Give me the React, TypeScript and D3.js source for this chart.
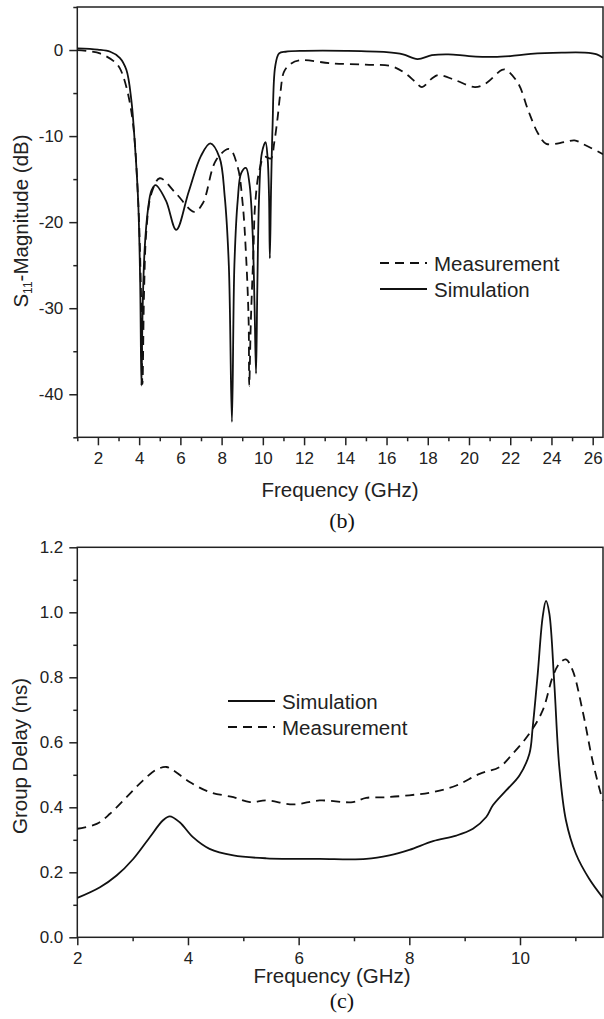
import React, { useEffect, useRef } from 'react';
import * as d3 from 'd3';

// ---- panel (b): S11 magnitude ----
const s11SimFreq = [1, 2, 2.6, 3.06, 3.38, 3.62, 3.78, 3.95, 4.05, 4.11, 4.17, 4.27, 4.43, 4.6, 4.8, 5.3, 5.8, 6.4, 7.0, 7.45, 7.9, 8.15, 8.35, 8.5, 8.62, 8.78, 8.95, 9.18, 9.35, 9.5, 9.6, 9.67, 9.73, 9.82, 9.95, 10.13, 10.23, 10.3, 10.34, 10.4, 10.47, 10.6, 10.79, 11.1, 12, 14, 16, 16.8, 17.5, 18.2, 19, 20, 21.2, 22, 23, 24.5, 25.6, 26.2, 26.5];
const s11SimMag = [0.2, 0.05, -0.2, -0.9, -2.3, -5.8, -10.5, -17.4, -27, -39, -30, -23, -18.5, -16.3, -15.7, -17.5, -20.9, -16.5, -12.3, -10.85, -12.5, -17, -25, -43.2, -25, -17.5, -14.3, -13.7, -15.5, -21, -30, -37.6, -28, -17, -12, -10.7, -12.5, -17, -24.2, -16, -9, -1.9, -0.4, -0.2, -0.1, -0.1, -0.25, -0.5, -1.05, -0.6, -0.5, -0.7, -0.8, -0.7, -0.45, -0.3, -0.3, -0.5, -0.9];

const s11MeasFreq = [1, 2.1, 2.82, 3.06, 3.38, 3.7, 3.95, 4.08, 4.16, 4.24, 4.35, 4.59, 5.0, 5.8, 6.68, 7.09, 7.73, 8.38, 8.78, 9.02, 9.18, 9.31, 9.34, 9.42, 9.54, 9.63, 9.83, 10.07, 10.39, 10.55, 10.71, 10.85, 11.03, 11.35, 11.76, 13.37, 14.98, 16.27, 16.9, 17.4, 17.72, 18.2, 18.52, 19.33, 20.29, 20.8, 21.6, 21.8, 22.39, 22.87, 23.35, 23.75, 24.64, 25.12, 25.6, 26.5];
const s11MeasMag = [0, -0.4, -1.4, -2.1, -4.3, -8.5, -17.4, -27, -38.8, -28, -21, -16.7, -14.9, -16.7, -18.8, -17.8, -12.8, -11.5, -13.6, -17.8, -23.6, -31.4, -39, -31.4, -23.6, -17.8, -14, -12.4, -12.6, -10.8, -8, -5, -2.5, -1.6, -1.2, -1.55, -1.7, -1.9, -2.7, -3.7, -4.3, -3.3, -2.9, -3.5, -4.3, -3.9, -2.3, -2.3, -3.9, -7, -9.7, -10.9, -10.7, -10.5, -11, -12.1];

const s11XMajor = [2, 4, 6, 8, 10, 12, 14, 16, 18, 20, 22, 24, 26];
const s11XMinor = [1, 3, 5, 7, 9, 11, 13, 15, 17, 19, 21, 23, 25];
const s11YMajor = [-40, -30, -20, -10, 0];
const s11YMinor = [-45, -35, -25, -15, -5, 5];

// ---- panel (c): group delay ----
const gdSimFreq = [2, 2.41, 2.71, 3.01, 3.31, 3.55, 3.67, 3.85, 4.09, 4.39, 4.82, 5.42, 6.38, 7.22, 7.64, 8.0, 8.43, 8.85, 9.15, 9.39, 9.51, 9.75, 9.99, 10.17, 10.23, 10.32, 10.41, 10.47, 10.53, 10.62, 10.71, 10.83, 11.01, 11.25, 11.5];
const gdSimDelay = [0.121, 0.154, 0.19, 0.241, 0.308, 0.36, 0.372, 0.354, 0.308, 0.272, 0.252, 0.243, 0.241, 0.241, 0.252, 0.269, 0.296, 0.313, 0.334, 0.37, 0.406, 0.452, 0.498, 0.565, 0.647, 0.81, 0.986, 1.035, 0.997, 0.78, 0.524, 0.36, 0.257, 0.18, 0.121];

const gdMeasFreq = [2, 2.35, 2.59, 2.89, 3.19, 3.43, 3.61, 3.73, 4.03, 4.39, 4.82, 5.12, 5.42, 5.9, 6.38, 6.98, 7.22, 7.58, 8.0, 8.43, 8.85, 9.27, 9.63, 9.87, 10.17, 10.41, 10.59, 10.71, 10.83, 10.95, 11.13, 11.31, 11.46, 11.5];
const gdMeasDelay = [0.334, 0.349, 0.38, 0.431, 0.483, 0.516, 0.524, 0.514, 0.478, 0.447, 0.431, 0.416, 0.421, 0.409, 0.421, 0.416, 0.429, 0.431, 0.437, 0.447, 0.467, 0.503, 0.524, 0.565, 0.627, 0.698, 0.801, 0.842, 0.855, 0.822, 0.698, 0.544, 0.442, 0.42];

const gdXMajor = [2, 4, 6, 8, 10];
const gdXMinor = [3, 5, 7, 9, 11];
const gdYMajor = [0, 0.2, 0.4, 0.6, 0.8, 1.0, 1.2];
const gdYMinor = [0.1, 0.3, 0.5, 0.7, 0.9, 1.1];

const SANS = '"Liberation Sans", Arial, sans-serif';
const SERIF = '"Liberation Serif", "Times New Roman", serif';
const DASH = '9,6';

type Series = { x: number[]; y: number[]; dashed: boolean; label: string };

type Panel = {
    id: string;
    left: number; top: number; right: number; bottom: number;
    xDomain: [number, number]; yDomain: [number, number];
    xMajor: number[]; xMinor: number[]; yMajor: number[]; yMinor: number[];
    yFormat: (d: number) => string;
    series: Series[];
    legend: { x: number; y: number };
    yTitle: string; ySub?: string; yTitleRest?: string; yTitleX: number; yTitleY: number;
    xTitleX: number; xTitleY: number;
    caption: string; captionX: number; captionY: number;
};

const panels: Panel[] = [
    {
        id: 'b', left: 77.3, top: 7, right: 603, bottom: 437.3,
        xDomain: [1, 26.5], yDomain: [-45, 5],
        xMajor: s11XMajor, xMinor: s11XMinor, yMajor: s11YMajor, yMinor: s11YMinor,
        yFormat: d => String(d),
        series: [
            { x: s11MeasFreq, y: s11MeasMag, dashed: true, label: 'Measurement' },
            { x: s11SimFreq, y: s11SimMag, dashed: false, label: 'Simulation' },
        ],
        legend: { x: 380, y: 263 },
        yTitle: 'S', ySub: '11', yTitleRest: '-Magnitude (dB)', yTitleX: 28, yTitleY: 221,
        xTitleX: 340, xTitleY: 497,
        caption: '(b)', captionX: 342, captionY: 528,
    },
    {
        id: 'c', left: 77.3, top: 547.3, right: 603, bottom: 937.3,
        xDomain: [2, 11.5], yDomain: [0, 1.2],
        xMajor: gdXMajor, xMinor: gdXMinor, yMajor: gdYMajor, yMinor: gdYMinor,
        yFormat: d3.format('.1f'),
        series: [
            { x: gdSimFreq, y: gdSimDelay, dashed: false, label: 'Simulation' },
            { x: gdMeasFreq, y: gdMeasDelay, dashed: true, label: 'Measurement' },
        ],
        legend: { x: 228, y: 701 },
        yTitle: 'Group Delay (ns)', yTitleX: 27, yTitleY: 756,
        xTitleX: 332, xTitleY: 983,
        caption: '(c)', captionX: 342, captionY: 1008,
    },
];

const App: React.FC = () => {
    const svgRef = useRef<SVGSVGElement | null>(null);

    useEffect(() => {
        const svg = d3.select(svgRef.current);
        svg.selectAll('*').remove();

        panels.forEach(p => {
            const x = d3.scaleLinear().domain(p.xDomain).range([p.left, p.right]);
            const y = d3.scaleLinear().domain(p.yDomain).range([p.bottom, p.top]);
            const g = svg.append('g');

            g.append('clipPath').attr('id', `clip-${p.id}`)
                .append('rect')
                .attr('x', p.left).attr('y', p.top)
                .attr('width', p.right - p.left).attr('height', p.bottom - p.top);

            // frame
            g.append('rect')
                .attr('x', p.left).attr('y', p.top)
                .attr('width', p.right - p.left).attr('height', p.bottom - p.top)
                .attr('fill', 'none').attr('stroke', '#222').attr('stroke-width', 1.5);

            // x axis: major + minor
            const xAxisG = g.append('g').attr('transform', `translate(0,${p.bottom})`);
            xAxisG.call(d3.axisBottom(x).tickValues(p.xMajor).tickSize(8).tickPadding(7).tickSizeOuter(0).tickFormat(d => String(d)));
            xAxisG.append('g').call(d3.axisBottom(x).tickValues(p.xMinor).tickSize(4).tickSizeOuter(0).tickFormat(() => ''));

            const yAxisG = g.append('g').attr('transform', `translate(${p.left},0)`);
            yAxisG.call(d3.axisLeft(y).tickValues(p.yMajor).tickSize(8).tickPadding(6).tickSizeOuter(0).tickFormat(d => p.yFormat(d as number)));
            yAxisG.append('g').call(d3.axisLeft(y).tickValues(p.yMinor).tickSize(4).tickSizeOuter(0).tickFormat(() => ''));

            [xAxisG, yAxisG].forEach(a => {
                a.selectAll('.domain').remove();
                a.selectAll('line').attr('stroke', '#222').attr('stroke-width', 1.5);
                a.selectAll('text').attr('font-family', SANS).attr('font-size', 17).attr('fill', '#222');
            });

            // curves
            p.series.forEach(s => {
                const pts = s.x.map((v, i) => [v, s.y[i]] as [number, number]);
                const line = d3.line<[number, number]>()
                    .x(d => x(d[0]))
                    .y(d => y(d[1]))
                    .curve(d3.curveCatmullRom.alpha(0.5));
                g.append('path')
                    .datum(pts)
                    .attr('clip-path', `url(#clip-${p.id})`)
                    .attr('fill', 'none')
                    .attr('stroke', '#111')
                    .attr('stroke-width', 1.8)
                    .attr('stroke-dasharray', s.dashed ? DASH : null)
                    .attr('d', line);
            });

            // legend
            p.series.forEach((s, i) => {
                const ly = p.legend.y + i * 26;
                g.append('line')
                    .attr('x1', p.legend.x).attr('x2', p.legend.x + 47)
                    .attr('y1', ly).attr('y2', ly)
                    .attr('stroke', '#111').attr('stroke-width', 1.8)
                    .attr('stroke-dasharray', s.dashed ? DASH : null);
                g.append('text')
                    .attr('x', p.legend.x + 54).attr('y', ly + 7.5)
                    .attr('font-family', SANS).attr('font-size', 20.5).attr('fill', '#222')
                    .text(s.label);
            });

            // axis titles
            g.append('text')
                .attr('x', p.xTitleX).attr('y', p.xTitleY)
                .attr('text-anchor', 'middle')
                .attr('font-family', SANS).attr('font-size', 20.5).attr('fill', '#222')
                .text('Frequency (GHz)');

            const yt = g.append('text')
                .attr('transform', `translate(${p.yTitleX},${p.yTitleY}) rotate(-90)`)
                .attr('text-anchor', 'middle')
                .attr('font-family', SANS).attr('font-size', 20.5).attr('fill', '#222');
            yt.append('tspan').text(p.yTitle);
            if (p.ySub) {
                yt.append('tspan').attr('font-size', 12).attr('dy', 4).text(p.ySub);
                yt.append('tspan').attr('dy', -4).text(p.yTitleRest ?? '');
            }

            g.append('text')
                .attr('x', p.captionX).attr('y', p.captionY)
                .attr('text-anchor', 'middle')
                .attr('font-family', SERIF).attr('font-size', 22).attr('fill', '#111')
                .text(p.caption);
        });
    }, []);

    return (
        <svg
            ref={svgRef}
            width={604}
            height={1019}
            style={{ position: 'absolute', left: 0, top: 0, background: '#fff' }}
        />
    );
};

export default App;
